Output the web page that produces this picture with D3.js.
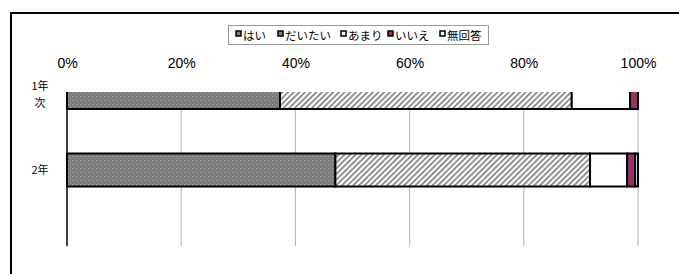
<!DOCTYPE html>
<html>
<head>
<meta charset="utf-8">
<script src="https://cdn.jsdelivr.net/npm/d3@7"></script>
<style>
  body { margin: 0; background: #fff; }
  text { font-family: "Liberation Sans", Arial, "Noto Sans CJK JP", sans-serif; }
</style>
</head>
<body>
<div id="chart"></div>
<script>
// data
let categories = ['1年次', '2年'];
let seriesNames = ['はい', 'だいたい', 'あまり', 'いいえ', '無回答'];
let hai     = [37.3, 47.0];
let daitai  = [51.1, 44.6];
let amari   = [10.2, 6.5];
let iie     = [1.4, 1.4];
let mukaito = [0.0, 0.5];
let tickValues = [0, 20, 40, 60, 80, 100];

let svgWidth = 679, svgHeight = 274;
let x0 = 67, x1 = 638, plotTop = 92, plotBottom = 246;

let svg = d3.select('#chart').append('svg')
  .attr('width', svgWidth).attr('height', svgHeight);

let defs = svg.append('defs');

// dotted grey fill for はい
let pDot = defs.append('pattern').attr('id', 'pDot')
  .attr('patternUnits', 'userSpaceOnUse').attr('width', 4).attr('height', 4);
pDot.append('rect').attr('width', 4).attr('height', 4).attr('fill', '#7c7c7c');
pDot.append('rect').attr('x', 0).attr('y', 0).attr('width', 1).attr('height', 1).attr('fill', '#a8a8a8');
pDot.append('rect').attr('x', 2).attr('y', 2).attr('width', 1).attr('height', 1).attr('fill', '#949494');

// diagonal hatch for だいたい
let pHatch = defs.append('pattern').attr('id', 'pHatch')
  .attr('patternUnits', 'userSpaceOnUse').attr('width', 4).attr('height', 4)
  .attr('patternTransform', 'rotate(45)');
pHatch.append('rect').attr('width', 4).attr('height', 4).attr('fill', '#ffffff');
pHatch.append('rect').attr('width', 1.7).attr('height', 4).attr('fill', '#808080');

let fills = ['url(#pDot)', 'url(#pHatch)', '#ffffff', '#993366', '#ccffff'];

defs.append('clipPath').attr('id', 'plotClip')
  .append('rect').attr('x', x0 - 2).attr('y', plotTop)
  .attr('width', x1 - x0 + 4).attr('height', plotBottom - plotTop);

// outer frame
svg.append('path')
  .attr('d', `M11,${svgHeight + 2} L11,13 L${svgWidth + 2},13`)
  .attr('fill', 'none').attr('stroke', '#000').attr('stroke-width', 2);

// scales
let xScale = d3.scaleLinear().domain([0, 100]).range([x0, x1]);
let yScale = d3.scalePoint().domain(categories).range([92.5, 170]);
let barH = 33;

// gridlines
svg.append('g').selectAll('line')
  .data(tickValues.slice(1))
  .enter().append('line')
  .attr('x1', d => xScale(d)).attr('x2', d => xScale(d))
  .attr('y1', plotTop).attr('y2', plotBottom)
  .attr('stroke', '#b4b4b4').attr('stroke-width', 1);

// top axis labels
let xAxis = d3.axisTop(xScale).tickValues(tickValues)
  .tickFormat(d => d + '%').tickSize(0).tickPadding(0);
svg.append('g')
  .attr('transform', 'translate(0,68)')
  .call(xAxis)
  .call(g => g.select('.domain').remove())
  .call(g => g.selectAll('text')
    .attr('dy', 0)
    .attr('font-size', 14).attr('fill', '#000')
    .attr('font-family', '"Liberation Sans", Arial, sans-serif'));

// stacked bars
let seriesValues = [hai, daitai, amari, iie, mukaito];
let rows = categories.map((c, i) => {
  let o = { cat: c };
  seriesNames.forEach((s, k) => o[s] = seriesValues[k][i]);
  return o;
});
let stacked = d3.stack().keys(seriesNames)(rows);

let barsG = svg.append('g').attr('clip-path', 'url(#plotClip)');
stacked.forEach((layer, k) => {
  barsG.selectAll('.s' + k)
    .data(layer)
    .enter().append('rect')
    .attr('x', d => xScale(d[0]))
    .attr('y', d => yScale(d.data.cat) - barH / 2)
    .attr('width', d => Math.max(0, xScale(d[1]) - xScale(d[0])))
    .attr('height', barH)
    .attr('fill', fills[k])
    .attr('stroke', '#000')
    .attr('stroke-width', d => d[1] - d[0] > 0 ? 2 : 0);
});

// left axis line
svg.append('line')
  .attr('x1', x0).attr('x2', x0).attr('y1', plotTop).attr('y2', plotBottom)
  .attr('stroke', '#000').attr('stroke-width', 1.5);

// category labels
let catLabels = svg.append('g');
catLabels.append('text').attr('x', 40).attr('y', 90)
  .attr('text-anchor', 'middle').text('1年');
catLabels.append('text').attr('x', 40).attr('y', 107)
  .attr('text-anchor', 'middle').text('次');
catLabels.append('text').attr('x', 40).attr('y', yScale('2年') + 4)
  .attr('text-anchor', 'middle').text('2年');
catLabels.selectAll('text')
  .attr('font-size', 11)
  .style('font-family', '"Noto Sans CJK JP", sans-serif');

// legend
let legend = svg.append('g');
legend.append('rect')
  .attr('x', 228.5).attr('y', 25.5).attr('width', 260).attr('height', 19)
  .attr('fill', '#fff').attr('stroke', '#999');
let legendX = [236, 278, 341, 388, 440];
let legendColors = ['#808080', '#808080', '#ffffff', '#993366', '#ccffff'];
seriesNames.forEach((s, k) => {
  legend.append('rect')
    .attr('x', legendX[k]).attr('y', 31).attr('width', 5).attr('height', 5)
    .attr('fill', legendColors[k]).attr('stroke', '#000').attr('stroke-width', 1.5);
  legend.append('text')
    .attr('x', legendX[k] + 7).attr('y', 40)
    .attr('font-size', 11.5)
    .style('font-family', '"Noto Sans CJK JP", sans-serif')
    .text(s);
});
</script>
</body>
</html>
